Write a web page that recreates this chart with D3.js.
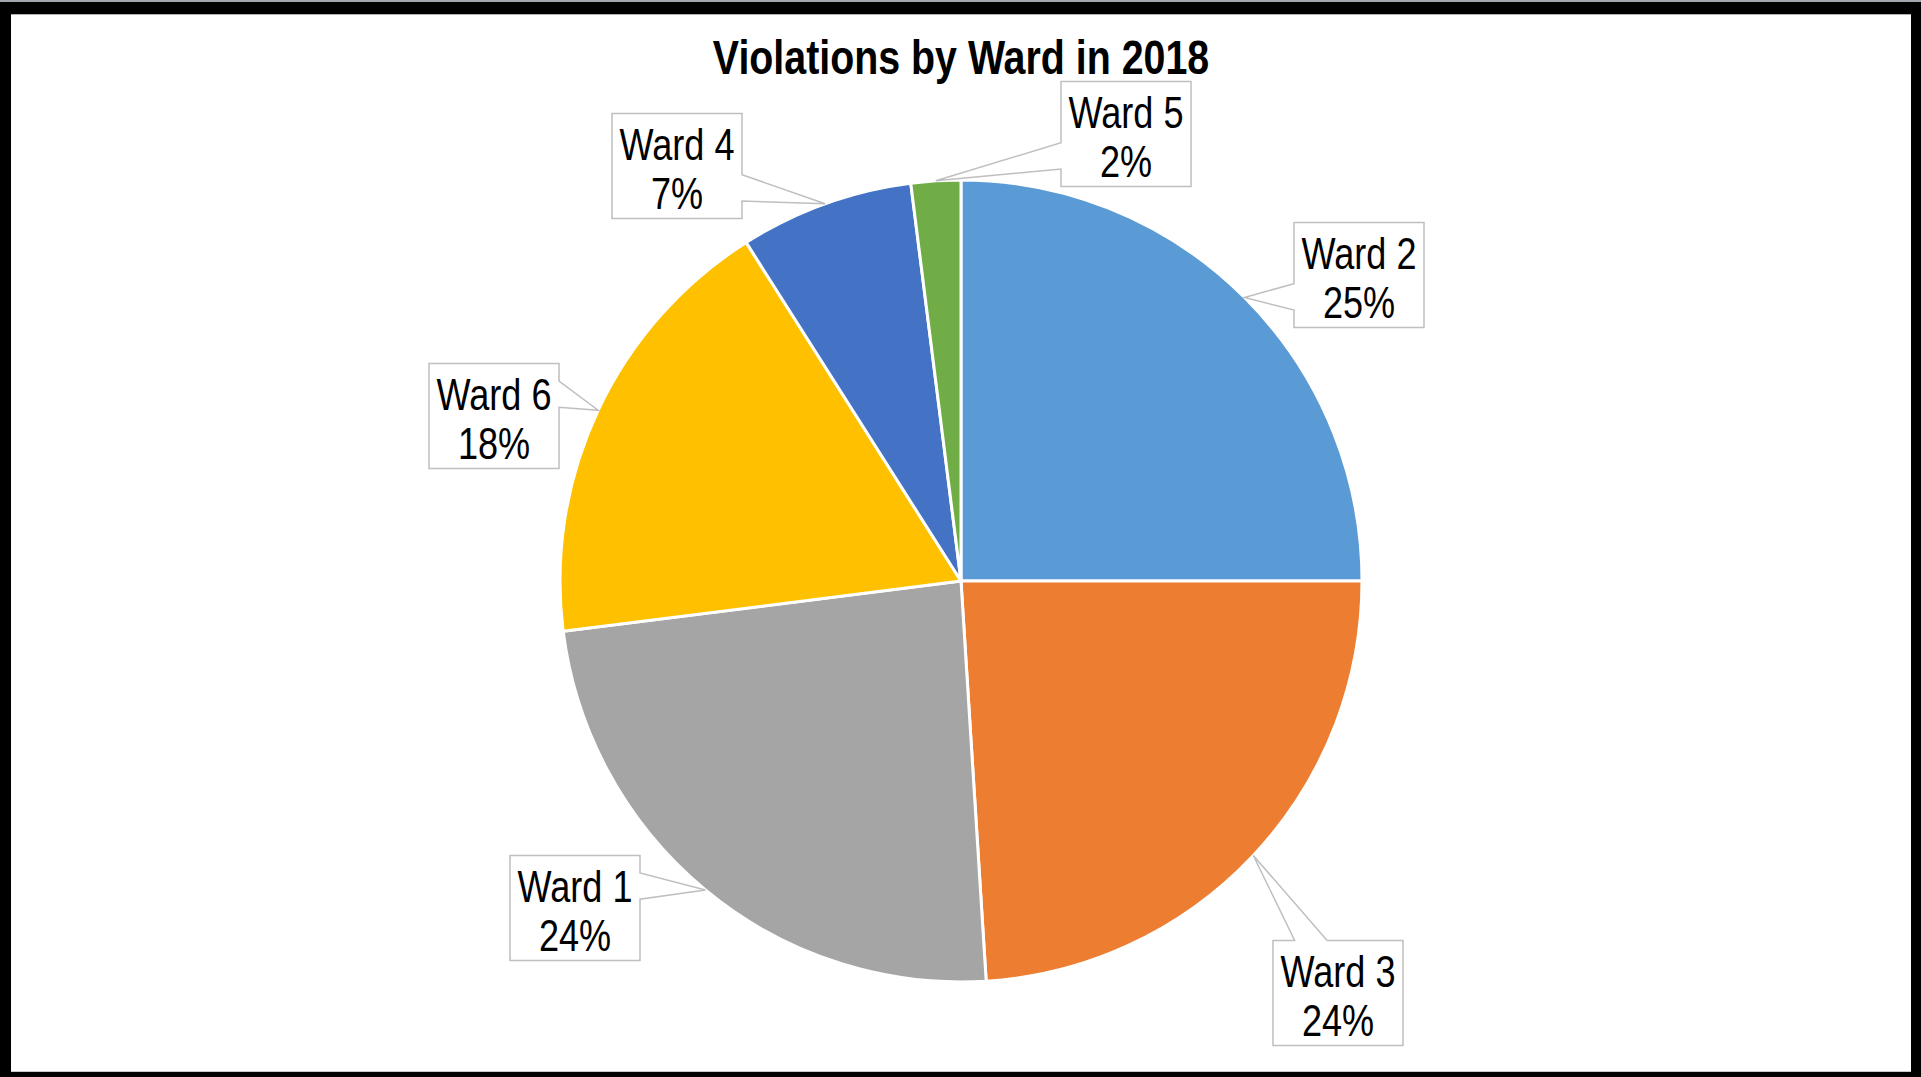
<!DOCTYPE html>
<html>
<head>
<meta charset="utf-8">
<script src="https://cdn.jsdelivr.net/npm/d3@7"></script>
<style>
  html, body { margin: 0; padding: 0; background: #000; overflow: hidden; }
  svg { display: block; }
</style>
</head>
<body>
<svg id="chart" width="1921" height="1077"></svg>
<script>
// ---- data ----
const chartTitle = "Violations by Ward in 2018";
const wards = ["Ward 2", "Ward 3", "Ward 1", "Ward 6", "Ward 4", "Ward 5"];
const shares = [25, 24, 24, 18, 7, 2];           // percent of violations
const sliceColors = ["#5B9BD5", "#ED7D31", "#A5A5A5", "#FFC000", "#4472C4", "#70AD47"];

// ---- layout ----
const W = 1921, H = 1077;
const cx = 961, cy = 581, radius = 401;
const boxW = 130, boxH = 105;
// callout box centres, offsets from the pie centre (px), same order as wards
const calloutOffsets = [[398, -306], [377, 412], [-386, 327], [-467, -165], [-284, -415], [165, -447]];
// a narrow face: Arial-metric sans, squeezed horizontally
const fontFamily = "'Liberation Sans', Arial, sans-serif";
const narrow = 0.82;

const svg = d3.select("#chart");

// frame: black surround with a white panel
svg.append("rect").attr("x", 0).attr("y", 0).attr("width", W).attr("height", H).attr("fill", "#000");
svg.append("rect").attr("x", 0).attr("y", 0).attr("width", W).attr("height", 2).attr("fill", "#a3a7ae");
svg.append("rect").attr("x", 11).attr("y", 15).attr("width", 1900).attr("height", 1056).attr("fill", "#fff");
svg.append("line").attr("x1", 11).attr("x2", 1911).attr("y1", 14.5).attr("y2", 14.5)
  .attr("stroke", "#b0b0b0").attr("stroke-width", 1);
svg.append("line").attr("x1", 11).attr("x2", 1911).attr("y1", 1071.5).attr("y2", 1071.5)
  .attr("stroke", "#c8c8c8").attr("stroke-width", 1);

// title
svg.append("text")
  .attr("transform", `translate(${cx},74) scale(${narrow},1)`)
  .attr("text-anchor", "middle")
  .attr("font-family", fontFamily)
  .attr("font-weight", "bold")
  .attr("font-size", 48)
  .attr("fill", "#000")
  .text(chartTitle);

const rows = wards.map((w, i) => ({ ward: w, share: shares[i], color: sliceColors[i], offset: calloutOffsets[i] }));

const pie = d3.pie().sort(null).value(d => d.share).startAngle(0).endAngle(2 * Math.PI);
const arc = d3.arc().innerRadius(0).outerRadius(radius);
const arcs = pie(rows);

const g = svg.append("g").attr("transform", `translate(${cx},${cy})`);

g.selectAll("path.slice")
  .data(arcs)
  .join("path")
  .attr("class", "slice")
  .attr("d", arc)
  .attr("fill", d => d.data.color)
  .attr("stroke", "#fff")
  .attr("stroke-width", 3)
  .attr("stroke-linejoin", "round");

// rectangular callout with a wedge pointing at (tx, ty)
function calloutPath(bx, by, w, h, tx, ty) {
  const l = bx - w / 2, t = by - h / 2, r = bx + w / 2, b = by + h / 2;
  const dx = tx - bx, dy = ty - by;
  const x1 = l + w * (dx > 0 ? 7 : 2) / 12, x2 = l + w * (dx > 0 ? 10 : 5) / 12;
  const y1 = t + h * (dy > 0 ? 7 : 2) / 12, y2 = t + h * (dy > 0 ? 10 : 5) / 12;
  const horiz = Math.abs(dx) * h > Math.abs(dy) * w;
  const p = d3.path();
  p.moveTo(l, t);
  if (!horiz && dy < 0) { p.lineTo(x1, t); p.lineTo(tx, ty); p.lineTo(x2, t); }
  p.lineTo(r, t);
  if (horiz && dx > 0) { p.lineTo(r, y1); p.lineTo(tx, ty); p.lineTo(r, y2); }
  p.lineTo(r, b);
  if (!horiz && dy > 0) { p.lineTo(x2, b); p.lineTo(tx, ty); p.lineTo(x1, b); }
  p.lineTo(l, b);
  if (horiz && dx < 0) { p.lineTo(l, y2); p.lineTo(tx, ty); p.lineTo(l, y1); }
  p.closePath();
  return p.toString();
}

const labels = g.selectAll("g.callout")
  .data(arcs)
  .join("g")
  .attr("class", "callout");

labels.append("path")
  .attr("d", d => {
    const a = (d.startAngle + d.endAngle) / 2;
    const tx = radius * Math.sin(a), ty = -radius * Math.cos(a);
    return calloutPath(d.data.offset[0], d.data.offset[1], boxW, boxH, tx, ty);
  })
  .attr("fill", "#fff")
  .attr("stroke", "#bfbfbf")
  .attr("stroke-width", 1.5)
  .attr("stroke-linejoin", "miter");

const fmt = d3.format(".0f");
labels.append("text")
  .attr("transform", d => `translate(${d.data.offset[0]},${d.data.offset[1] - 6}) scale(${narrow},1)`)
  .attr("text-anchor", "middle")
  .attr("font-family", fontFamily)
  .attr("font-size", 44)
  .attr("fill", "#000")
  .text(d => d.data.ward);

labels.append("text")
  .attr("transform", d => `translate(${d.data.offset[0]},${d.data.offset[1] + 43}) scale(${narrow},1)`)
  .attr("text-anchor", "middle")
  .attr("font-family", fontFamily)
  .attr("font-size", 44)
  .attr("fill", "#000")
  .text(d => fmt(d.data.share) + "%");
</script>
</body>
</html>
